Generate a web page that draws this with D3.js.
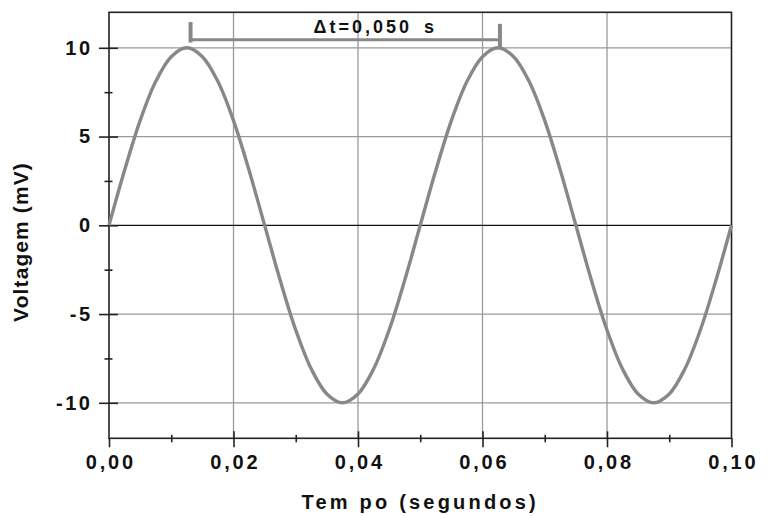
<!DOCTYPE html>
<html>
  <head>
    <meta charset="utf-8">
    <title>Voltagem x Tempo</title>
    <style>
      body { margin: 0; background: #fff; }
      text { font-family: "Liberation Sans", Arial, sans-serif; font-weight: bold; fill: #111; }
    </style>
  </head>

  <body>
  	<div id="container"></div>
  </body>

  <script src="https://cdn.jsdelivr.net/npm/d3@7/dist/d3.min.js"></script>

  <script>
  // values (one point every 0,0025 s)
  var times = [0, 0.0025, 0.005, 0.0075, 0.01, 0.0125, 0.015, 0.0175, 0.02, 0.0225,
  	0.025, 0.0275, 0.03, 0.0325, 0.035, 0.0375, 0.04, 0.0425, 0.045, 0.0475,
  	0.05, 0.0525, 0.055, 0.0575, 0.06, 0.0625, 0.065, 0.0675, 0.07, 0.0725,
  	0.075, 0.0775, 0.08, 0.0825, 0.085, 0.0875, 0.09, 0.0925, 0.095, 0.0975, 0.1];
  var volts = [0, 3.1, 5.9, 8.1, 9.5, 10, 9.5, 8.1, 5.9, 3.1,
  	0, -3.1, -5.9, -8.1, -9.5, -10, -9.5, -8.1, -5.9, -3.1,
  	0, 3.1, 5.9, 8.1, 9.5, 10, 9.5, 8.1, 5.9, 3.1,
  	0, -3.1, -5.9, -8.1, -9.5, -10, -9.5, -8.1, -5.9, -3.1, 0];

  var xTicks = [0, 0.02, 0.04, 0.06, 0.08, 0.1];
  var xMinor = [0.01, 0.03, 0.05, 0.07, 0.09];
  var yTicks = [-10, -5, 0, 5, 10];
  var yMinor = [-7.5, -2.5, 2.5, 7.5];

  // the delta-t bracket
  var bracketT = [0.0131, 0.0628];
  var bracketTop = [11.45, 11.35];
  var bracketBottom = [10.3, 9.95];
  var bracketLevel = 10.45;
  var bracketLabel = "\u0394t=0,050 s";

  function main() {

  	var width = 771, height = 516;
  	var margin = {top: 12.3, right: 39.5, bottom: 77.7, left: 109};
  	var w = width - margin.left - margin.right;
  	var h = height - margin.top - margin.bottom;

  	var svg = d3.select("#container").append("svg")
  		.attr("width", width)
  		.attr("height", height);

  	var g = svg.append("g")
  		.attr("transform", "translate(" + margin.left + "," + margin.top + ")");

  	var x = d3.scaleLinear().domain([0, 0.1]).range([0, w]);
  	var y = d3.scaleLinear().domain([-12, 12]).range([h, 0]);

  	var fmtX = function(d) { return d3.format(".2f")(d).replace(".", ","); };
  	var fmtY = function(d) { return String(d); };

  	// grid
  	g.selectAll(".vgrid")
  		.data(xTicks.slice(1, -1))
  		.enter().append("line")
  		.attr("x1", x).attr("x2", x)
  		.attr("y1", 0).attr("y2", h)
  		.attr("stroke", "#9a9a9a")
  		.attr("stroke-width", 1.3);

  	g.selectAll(".hgrid")
  		.data(yTicks)
  		.enter().append("line")
  		.attr("x1", 0).attr("x2", w)
  		.attr("y1", y).attr("y2", y)
  		.attr("stroke", function(d) { return d === 0 ? "#111" : "#9a9a9a"; })
  		.attr("stroke-width", function(d) { return d === 0 ? 1.2 : 1.3; });

  	// frame
  	g.append("rect")
  		.attr("width", w).attr("height", h)
  		.attr("fill", "none")
  		.attr("stroke", "#222")
  		.attr("stroke-width", 1.6);

  	// axes (ticks cross the frame)
  	var xAxis = g.append("g")
  		.attr("transform", "translate(0," + h + ")")
  		.call(d3.axisBottom(x).tickValues(xTicks).tickFormat(fmtX).tickSize(9).tickPadding(8));
  	xAxis.select(".domain").remove();
  	xAxis.selectAll(".tick line").attr("y1", function(d) { return (d === 0 || d === 0.1) ? 0 : -7; })
  		.attr("stroke", "#222").attr("stroke-width", 1.6);
  	xAxis.selectAll(".tick text")
  		.attr("font-size", 20).attr("font-family", "Liberation Sans, Arial, sans-serif")
  		.attr("font-weight", "bold").attr("letter-spacing", 2.8).attr("fill", "#111")
  		.attr("dx", 1.4);

  	var xMin = g.append("g")
  		.attr("transform", "translate(0," + h + ")")
  		.call(d3.axisBottom(x).tickValues(xMinor).tickFormat("").tickSize(4));
  	xMin.select(".domain").remove();
  	xMin.selectAll(".tick line").attr("y1", -3.5).attr("stroke", "#222").attr("stroke-width", 1.6);

  	var yAxis = g.append("g")
  		.call(d3.axisLeft(y).tickValues(yTicks).tickFormat(fmtY).tickSize(10).tickPadding(9));
  	yAxis.select(".domain").remove();
  	yAxis.selectAll(".tick line").attr("x1", 9).attr("stroke", "#222").attr("stroke-width", 1.6);
  	yAxis.selectAll(".tick text")
  		.attr("font-size", 20).attr("font-family", "Liberation Sans, Arial, sans-serif")
  		.attr("font-weight", "bold").attr("letter-spacing", 2.6).attr("fill", "#111")
  		.attr("dx", 2.6);

  	var yMin = g.append("g")
  		.call(d3.axisLeft(y).tickValues(yMinor).tickFormat("").tickSize(4.5));
  	yMin.select(".domain").remove();
  	yMin.selectAll(".tick line").attr("x1", 3.5).attr("stroke", "#222").attr("stroke-width", 1.6);

  	// curve
  	var line = d3.line()
  		.x(function(d, i) { return x(times[i]); })
  		.y(function(d) { return y(d); })
  		.curve(d3.curveCatmullRom);

  	g.append("path")
  		.datum(volts)
  		.attr("d", line)
  		.attr("fill", "none")
  		.attr("stroke", "#888")
  		.attr("stroke-width", 3.4)
  		.attr("stroke-linejoin", "round");

  	// delta-t bracket
  	g.append("line")
  		.attr("x1", x(bracketT[0])).attr("x2", x(bracketT[1]))
  		.attr("y1", y(bracketLevel)).attr("y2", y(bracketLevel))
  		.attr("stroke", "#888").attr("stroke-width", 3);

  	g.selectAll(".bracket")
  		.data(bracketT)
  		.enter().append("line")
  		.attr("x1", x).attr("x2", x)
  		.attr("y1", function(d, i) { return y(bracketTop[i]); })
  		.attr("y2", function(d, i) { return y(bracketBottom[i]); })
  		.attr("stroke", "#888").attr("stroke-width", 4);

  	g.append("text")
  		.attr("x", x(d3.mean(bracketT)) + 30)
  		.attr("y", 21)
  		.attr("text-anchor", "middle")
  		.attr("font-size", 18)
  		.attr("letter-spacing", 3)
  		.style("word-spacing", "4px")
  		.text(bracketLabel);

  	// titles
  	svg.append("text")
  		.attr("x", margin.left + w / 2)
  		.attr("y", 509)
  		.attr("text-anchor", "middle")
  		.attr("font-size", 20)
  		.attr("letter-spacing", 3.2)
  		.text("Tem po (segundos)");

  	svg.append("text")
  		.attr("transform", "translate(28,242) rotate(-90)")
  		.attr("text-anchor", "middle")
  		.attr("font-size", 21)
  		.attr("letter-spacing", 1.1)
  		.text("Voltagem (mV)");

  }

  window.onload = main;
  </script>
</html>
